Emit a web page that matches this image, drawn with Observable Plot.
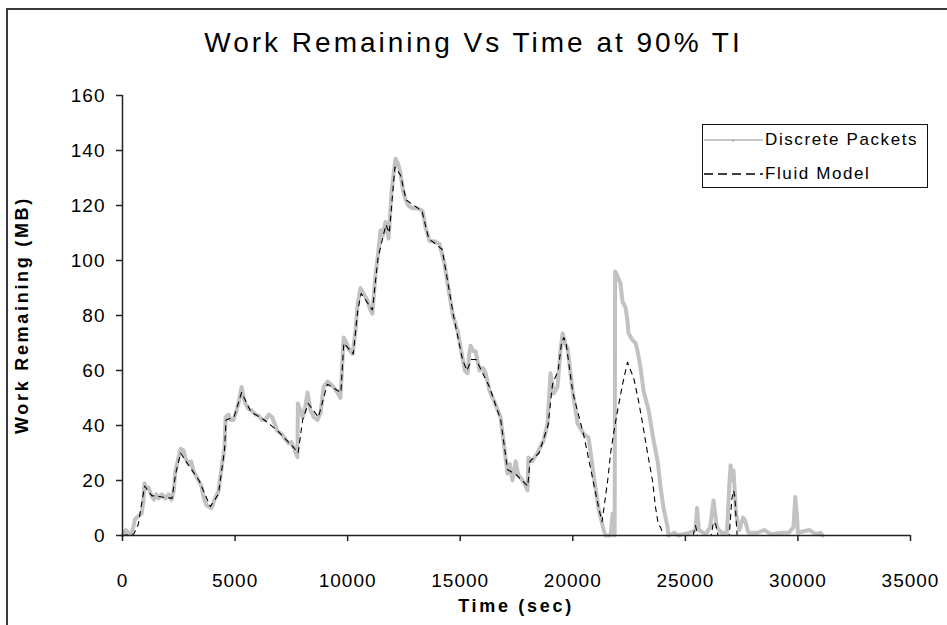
<!DOCTYPE html>
<html><head><meta charset="utf-8">
<script src="https://cdn.jsdelivr.net/npm/d3@7"></script>
<script src="https://cdn.jsdelivr.net/npm/@observablehq/plot@0.6"></script>
<style>
html,body{margin:0;padding:0;background:#fff;}
#wrap{position:relative;width:947px;height:625px;overflow:hidden;background:#fff;font-family:"Liberation Sans",Arial,sans-serif;color:#000;}
#frame{position:absolute;left:6px;top:8px;width:990px;height:680px;border:2px solid #3a3a3a;box-sizing:border-box;pointer-events:none;}
#chart{position:absolute;left:0;top:0;}
#chart svg text{letter-spacing:1px;}
#title{position:absolute;left:0;width:947px;top:27px;text-align:center;font-size:28px;letter-spacing:3px;white-space:nowrap;}
#xtitle{position:absolute;left:122px;width:788px;top:596px;text-align:center;font-size:18px;font-weight:bold;letter-spacing:2.7px;white-space:nowrap;}
#ytitle{position:absolute;left:22px;top:315px;transform:translate(-50%,-50%) rotate(-90deg);font-size:18px;font-weight:bold;letter-spacing:2.7px;white-space:nowrap;}
#legend{position:absolute;left:702px;top:124px;width:226px;height:64px;border:1.5px solid #111;box-sizing:border-box;background:#fff;}
.lrow{position:absolute;left:0;height:20px;display:flex;align-items:center;font-size:17px;letter-spacing:1.6px;white-space:nowrap;}
</style>
</head><body>
<div id="wrap">
  <div id="chart"></div>
  <div id="title">Work Remaining Vs Time at 90% TI</div>
  <div id="xtitle">Time (sec)</div>
  <div id="ytitle">Work Remaining (MB)</div>
  <div id="legend">
    <div class="lrow" style="top:5px;"><svg width="62" height="20"><line x1="1" y1="10" x2="60" y2="10" stroke="#b4b4b4" stroke-width="1.5"/><circle cx="30" cy="10.5" r="1" fill="#999"/></svg><span>Discrete Packets</span></div>
    <div class="lrow" style="top:39px;"><svg width="62" height="20"><line x1="1" y1="10" x2="60" y2="10" stroke="#000" stroke-width="1.5" stroke-dasharray="9,5"/></svg><span>Fluid Model</span></div>
  </div>
  <div id="frame"></div>
</div>
<script>
// Tick values
const xTicks = [0, 5000, 10000, 15000, 20000, 25000, 30000, 35000];
const yTicks = [0, 20, 40, 60, 80, 100, 120, 140, 160];

// Series: Discrete Packets
const discreteTime = [0,150,250,400,480,560,700,850,920,980,1060,1150,1290,1400,1500,1600,1750,1900,2050,2180,2270,2350,2480,2580,2710,2800,2930,3050,3150,3380,3500,3600,3730,3950,4130,4260,4400,4530,4580,4710,4800,4930,5050,5150,5290,5380,5460,5600,5730,5900,6040,6200,6350,6500,6650,6880,7050,7240,7370,7500,7600,7770,7790,8000,8100,8220,8350,8500,8660,8800,8930,9110,9250,9370,9550,9680,9770,9820,9950,10040,10220,10350,10440,10570,10700,10880,11000,11100,11240,11370,11460,11560,11680,11820,11950,12020,12130,12250,12350,12450,12570,12700,12880,13100,13330,13460,13640,13850,14080,14300,14440,14660,14880,15100,15200,15330,15400,15460,15580,15680,15860,16000,16130,16300,16550,16790,16920,17100,17200,17320,17460,17580,17680,17850,17990,18030,18200,18430,18550,18700,18880,19010,19150,19320,19460,19550,19650,19770,19990,20210,20480,20700,20920,21140,21370,21450,21680,21770,21810,21860,21880,21950,22120,22210,22340,22430,22475,22655,22790,22880,23010,23140,23370,23590,23770,23900,24030,24210,24250,24500,24700,24900,25200,25450,25520,25600,25900,26100,26250,26400,26600,26850,26950,27010,27100,27140,27250,27400,27560,27650,27800,28200,28500,28800,29300,29600,29800,29880,29950,30000,30500,30800,31000,31100];
const discreteWork = [0,2,1,0.5,3,6,7,8,12,19,17,17.5,14.5,13,15,13.5,15,13.5,15,13,16,23.5,28,31.5,31,28,26,27,23.5,20,18,14,11,10,14,16,24.5,32,43,44,42,42,45,48,54,50,48,46,45.5,44,43.6,42,42,44,43,38,37,35,33.5,34,32,28.5,48,43,46,52,45.5,43,42,44.7,54,56,55,54,52,50,63.5,72,70,68,66,74.5,84,90,88,85.5,82,80.7,95,103.6,111,109,114,108,125,130,137,135,131.6,126,122,120,119,119,118,112,107,107,106,99,91.6,80.7,74.5,64.7,60,59,66,69,67,67,60,61,59,52.7,48,43,34.5,22.5,26,20,27,22,21,19,16.4,28.4,27,30,32,34.5,40.7,59,51.6,54,68,73.5,70,68,52.7,40.7,37,35.6,22.5,10,2,0,0,8,3,0,96,95,91.6,85,83,78,73.5,71,70,67,61,52.7,45.5,34.5,27,17.5,10,3,0,1,0,0.5,1,2,10,2,0.5,3,12.7,3,1,1,18,25.5,20,23.6,8,2,6.5,5.5,1,1,2,0.5,1,1,3,14,8,1,2,0.5,1,0];

// Series: Fluid Model
const fluidTime = [0,500,700,980,1300,2200,2350,2580,2900,3400,3900,4260,4530,4600,4950,5290,5700,6300,6900,7600,7800,8000,8250,8700,9100,9700,9830,10250,10450,10600,11100,11350,11700,11850,12100,12350,12600,13300,13600,14200,14700,15100,15300,15500,15700,16300,16800,17100,17500,18000,18100,18500,18900,19100,19350,19500,19600,19700,20000,20500,20900,21150,21300,21550,21680,21810,21990,22210,22430,22570,22700,22920,23100,23320,23540,23680,23800,23900,24030,25350,25450,25550,26150,26250,26350,26450,26950,27060,27140,27200,27260,27300,31000];
const fluidWork = [0,0.5,4,18,14.5,13.5,22,30,26,20,10.5,15,31,42,43,52,45,42,38,32,30,42,48,43,55,52,70,66,82,88,82,101,113,110,134,131,122,118,108,104,80,64,60,64,64,54,42,24,22,18,27,30,40,55,60,70,72,70,52,36,20,10,5,20,30,37,45.5,55,63,60,57.5,49,40.7,30,20,10,4,3,0,0,3.6,0,0,5,4,0,0,13,16.4,14,5,0,0];

const discrete = discreteTime.map((t, i) => ({t, w: discreteWork[i]}));
const fluid = fluidTime.map((t, i) => ({t, w: fluidWork[i]}));

const axisColor = "#222";
const plot = Plot.plot({
  width: 947,
  height: 625,
  marginLeft: 122,
  marginRight: 37,
  marginTop: 95,
  marginBottom: 90,
  style: {fontFamily: "'Liberation Sans', Arial, sans-serif", fontSize: "19px", color: "#000", background: "transparent", overflow: "visible"},
  x: {domain: [0, 35000]},
  y: {domain: [0, 160]},
  marks: [
    Plot.line(discrete, {x: "t", y: "w", stroke: "#c2c2c2", strokeWidth: 4, strokeLinejoin: "round", curve: "linear"}),
    Plot.line(fluid, {x: "t", y: "w", stroke: "#000", strokeWidth: 1.1, strokeDasharray: "5,5"}),
    Plot.ruleX([0], {stroke: axisColor, strokeWidth: 1.5}),
    Plot.ruleY([0], {stroke: axisColor, strokeWidth: 1.5}),
    Plot.axisY({ticks: yTicks, tickSize: 6, tickPadding: 11, tickFormat: d => String(d), label: null, stroke: axisColor, strokeWidth: 1.5, fill: "#000"}),
    Plot.axisX({ticks: xTicks, tickSize: 6, tickPadding: 32, tickFormat: d => String(d), label: null, stroke: axisColor, strokeWidth: 1.5, fill: "#000"})
  ]
});
document.getElementById("chart").appendChild(plot);
</script>
</body></html>
